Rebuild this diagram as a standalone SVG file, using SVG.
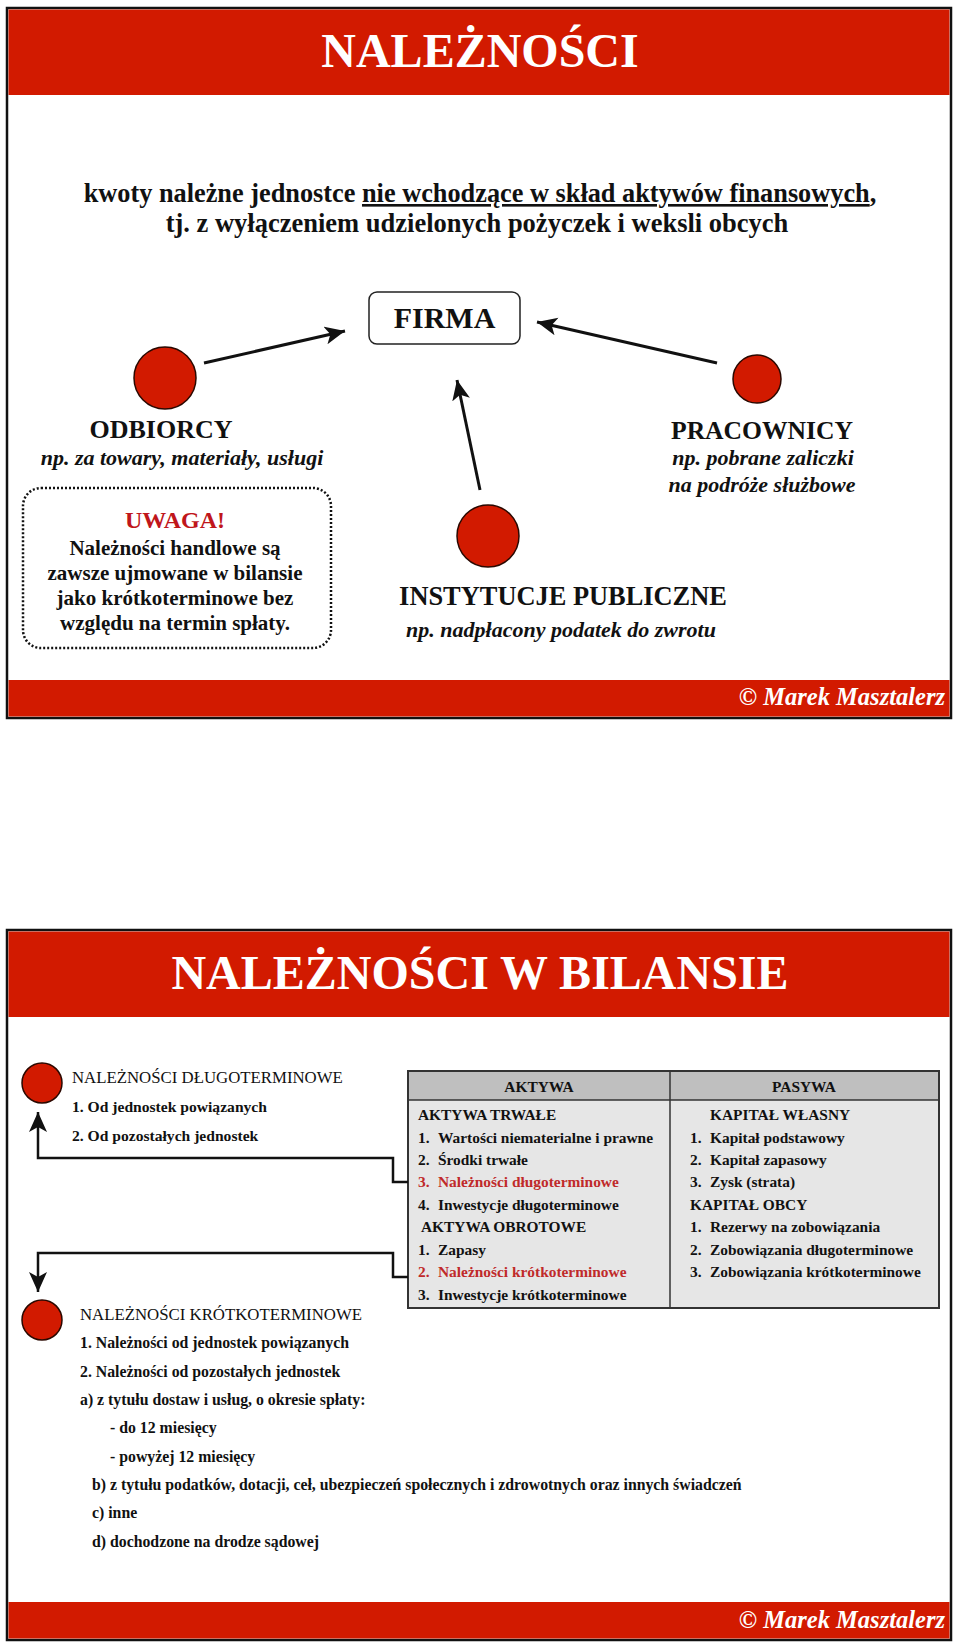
<svg xmlns="http://www.w3.org/2000/svg" width="960" height="1646" viewBox="0 0 960 1646">
<defs>
<style>
.frame{fill:#fff;stroke:#111;stroke-width:2.5}
.bar{fill:#d21a00}
.title{font-family:"Liberation Serif",serif;font-weight:bold;font-size:48px;fill:#fff;text-anchor:middle}
.foot{font-family:"Liberation Serif",serif;font-weight:bold;font-style:italic;font-size:24.5px;fill:#fff;text-anchor:end}
.dot{fill:#d21a00;stroke:#2a0800;stroke-width:1.5}
.b{font-family:"Liberation Serif",serif;font-weight:bold;fill:#111}
.r{font-family:"Liberation Serif",serif;fill:#111}
.bi{font-family:"Liberation Serif",serif;font-weight:bold;font-style:italic;fill:#111}
.mid{text-anchor:middle}
.red{fill:#c0161b}
.tred{fill:#c02a2a}
.conn{fill:none;stroke:#111;stroke-width:3}
.conn2{fill:none;stroke:#111;stroke-width:2.5}
</style>
<marker id="ah" markerUnits="userSpaceOnUse" markerWidth="22" markerHeight="20" refX="20" refY="9" orient="auto" viewBox="0 0 22 20">
<path d="M0,0 L20,9 L0,18 L5,9 z" fill="#111"/>
</marker>
</defs>

<!-- Slide 1 -->
<g id="slide1">
<rect class="frame" x="7" y="8" width="944" height="710"/>
<rect class="bar" x="8.5" y="9.5" width="941" height="85.5"/>
<text class="title" x="480" y="67">NALEŻNOŚCI</text>
<rect class="bar" x="8.5" y="680" width="941" height="36.5"/>
<text class="foot" x="945" y="705">© Marek Masztalerz</text>
</g>

<g id="definition">
<text class="b mid" x="480" y="202" font-size="26.3">kwoty należne jednostce <tspan text-decoration="underline">nie wchodzące w skład aktywów finansowych</tspan>,</text>
<text class="b mid" x="477" y="232" font-size="26.5">tj. z wyłączeniem udzielonych pożyczek i weksli obcych</text>
</g>

<g id="firma">
<rect x="369" y="292" width="151" height="52" rx="8" fill="#fff" stroke="#222" stroke-width="1.5"/>
<text class="b mid" x="444.5" y="328" font-size="30">FIRMA</text>
</g>

<g id="odbiorcy">
<circle class="dot" cx="165" cy="378" r="31"/>
<text class="b mid" x="161" y="438" font-size="26">ODBIORCY</text>
<text class="bi mid" x="182" y="465" font-size="22">np. za towary, materiały, usługi</text>
</g>

<g id="pracownicy">
<circle class="dot" cx="757" cy="379" r="24"/>
<text class="b mid" x="762" y="439" font-size="25.6">PRACOWNICY</text>
<text class="bi mid" x="763" y="465" font-size="22">np. pobrane zaliczki</text>
<text class="bi mid" x="762" y="492" font-size="22">na podróże służbowe</text>
</g>

<g id="instytucje">
<circle class="dot" cx="488" cy="536" r="31"/>
<text class="b mid" x="563" y="605" font-size="26.4">INSTYTUCJE PUBLICZNE</text>
<text class="bi mid" x="561" y="637" font-size="22">np. nadpłacony podatek do zwrotu</text>
</g>

<g id="uwaga">
<rect x="23" y="488" width="308" height="160" rx="18" fill="none" stroke="#111" stroke-width="2.5" stroke-dasharray="2 2"/>
<text class="b mid red" x="175" y="528" font-size="24">UWAGA!</text>
<text class="b mid" x="175" y="555" font-size="21">Należności handlowe są</text>
<text class="b mid" x="175" y="580" font-size="21">zawsze ujmowane w bilansie</text>
<text class="b mid" x="175" y="605" font-size="21">jako krótkoterminowe bez</text>
<text class="b mid" x="175" y="630" font-size="21">względu na termin spłaty.</text>
</g>

<g id="connectors1">
<line class="conn" x1="204" y1="363" x2="345" y2="331" marker-end="url(#ah)"/>
<line class="conn" x1="717" y1="363" x2="537" y2="322" marker-end="url(#ah)"/>
<line class="conn" x1="480" y1="490" x2="457" y2="380" marker-end="url(#ah)"/>
</g>

<!-- Slide 2 -->
<g id="slide2">
<rect class="frame" x="7" y="930" width="944" height="710"/>
<rect class="bar" x="8.5" y="931.5" width="941" height="85.5"/>
<text class="title" x="480" y="989">NALEŻNOŚCI W BILANSIE</text>
<rect class="bar" x="8.5" y="1602" width="941" height="36.5"/>
<text class="foot" x="945" y="1628">© Marek Masztalerz</text>
</g>

<g id="dlugoterminowe">
<circle class="dot" cx="42" cy="1083" r="20"/>
<text class="r" x="72" y="1083" font-size="16.8">NALEŻNOŚCI DŁUGOTERMINOWE</text>
<text class="b" x="72" y="1112" font-size="15.6">1. Od jednostek powiązanych</text>
<text class="b" x="72" y="1141" font-size="15.6">2. Od pozostałych jednostek</text>
</g>

<g id="krotkoterminowe">
<circle class="dot" cx="42" cy="1320" r="20"/>
<text class="r" x="80" y="1320" font-size="16.8">NALEŻNOŚCI KRÓTKOTERMINOWE</text>
<g class="b" font-size="15.8">
<text x="80" y="1348">1. Należności od jednostek powiązanych</text>
<text x="80" y="1377">2. Należności od pozostałych jednostek</text>
<text x="80" y="1405">a) z tytułu dostaw i usług, o okresie spłaty:</text>
<text x="110" y="1433">- do 12 miesięcy</text>
<text x="110" y="1462">- powyżej 12 miesięcy</text>
<text x="92" y="1490">b) z tytułu podatków, dotacji, ceł, ubezpieczeń społecznych i zdrowotnych oraz innych świadczeń</text>
<text x="92" y="1518">c) inne</text>
<text x="92" y="1547">d) dochodzone na drodze sądowej</text>
</g>
</g>

<g id="bilans">
<rect x="408" y="1071" width="531" height="237" fill="#e6e6e6" stroke="#333" stroke-width="2"/>
<rect x="409" y="1072" width="529" height="28" fill="#bfbfbf"/>
<line x1="408" y1="1100" x2="939" y2="1100" stroke="#333" stroke-width="1.5"/>
<line x1="670" y1="1071" x2="670" y2="1308" stroke="#333" stroke-width="1.5"/>
<rect x="408" y="1071" width="531" height="237" fill="none" stroke="#333" stroke-width="2"/>
<g class="b" font-size="15.4">
<text class="mid" x="539" y="1092">AKTYWA</text>
<text class="mid" x="804" y="1092">PASYWA</text>
<text x="418" y="1120">AKTYWA TRWAŁE</text>
<text x="418" y="1143">1.</text><text x="438" y="1143">Wartości niematerialne i prawne</text>
<text x="418" y="1165">2.</text><text x="438" y="1165">Środki trwałe</text>
<text class="tred" x="418" y="1187">3.</text><text class="tred" x="438" y="1187">Należności długoterminowe</text>
<text x="418" y="1210">4.</text><text x="438" y="1210">Inwestycje długoterminowe</text>
<text x="421" y="1232">AKTYWA OBROTOWE</text>
<text x="418" y="1255">1.</text><text x="438" y="1255">Zapasy</text>
<text class="tred" x="418" y="1277">2.</text><text class="tred" x="438" y="1277">Należności krótkoterminowe</text>
<text x="418" y="1300">3.</text><text x="438" y="1300">Inwestycje krótkoterminowe</text>
<text x="710" y="1120">KAPITAŁ WŁASNY</text>
<text x="690" y="1143">1.</text><text x="710" y="1143">Kapitał podstawowy</text>
<text x="690" y="1165">2.</text><text x="710" y="1165">Kapitał zapasowy</text>
<text x="690" y="1187">3.</text><text x="710" y="1187">Zysk (strata)</text>
<text x="690" y="1210">KAPITAŁ OBCY</text>
<text x="690" y="1232">1.</text><text x="710" y="1232">Rezerwy na zobowiązania</text>
<text x="690" y="1255">2.</text><text x="710" y="1255">Zobowiązania długoterminowe</text>
<text x="690" y="1277">3.</text><text x="710" y="1277">Zobowiązania krótkoterminowe</text>
</g>
</g>

<g id="connectors2">
<path class="conn2" d="M408,1182 H393 V1158 H38 V1112" marker-end="url(#ah)"/>
<path class="conn2" d="M408,1277 H393 V1253 H38 V1292" marker-end="url(#ah)"/>
</g>
</svg>
